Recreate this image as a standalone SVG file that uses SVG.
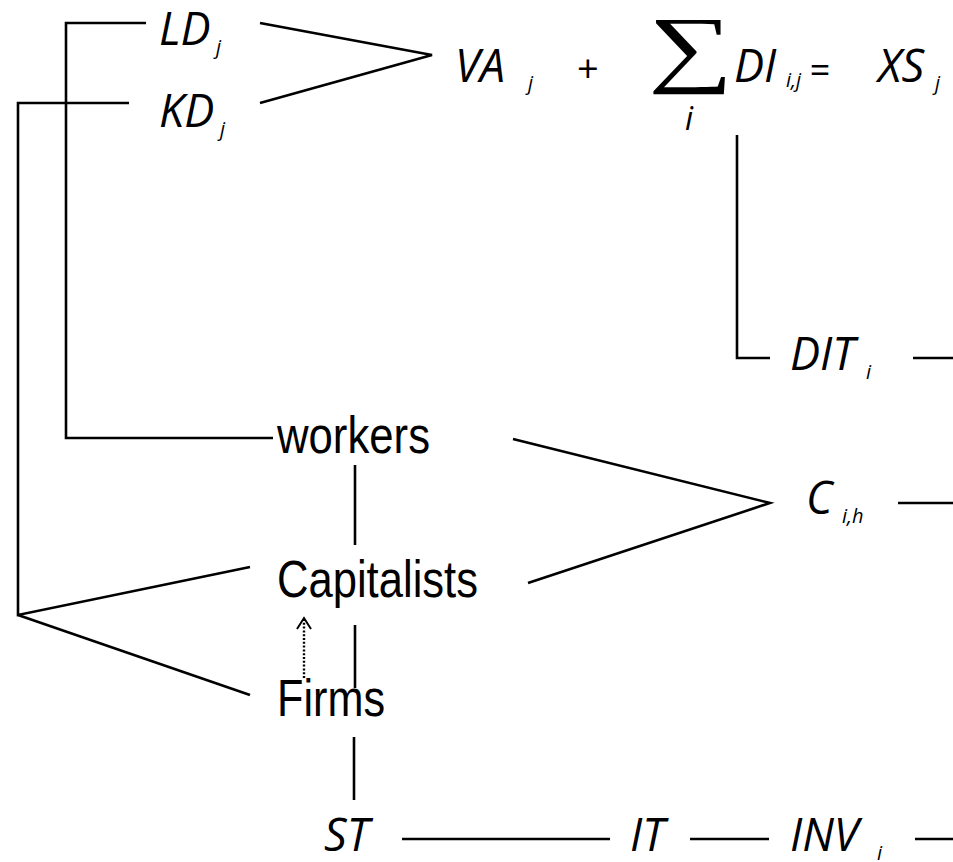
<svg xmlns="http://www.w3.org/2000/svg" width="953" height="862" viewBox="0 0 953 862">
<defs>
<style>
.it{font-family:"Open Sans","Noto Sans",sans-serif;font-style:italic;font-size:45px;fill:#000}
.sub{font-family:"Open Sans","Noto Sans",sans-serif;font-style:italic;font-size:20px;fill:#000}
.ar{font-family:"Liberation Sans Narrow","Liberation Sans",Arial,sans-serif;font-size:52px;fill:#000}
.ln{stroke:#000;stroke-width:2.6;fill:none}
</style>
<marker id="chev" viewBox="0 0 14 16" refX="12" refY="8" markerWidth="14" markerHeight="16" markerUnits="userSpaceOnUse" orient="auto">
<path d="M1,1 L12,8 L1,15" stroke="#000" stroke-width="2" fill="none"/>
</marker>
</defs>
<rect width="953" height="862" fill="#fff"/>
<g id="connectors">
<polyline class="ln" points="146,23 66,23 66,438 273,438"/>
<polyline class="ln" points="129,103 18,103 18,615 250,567"/>
<line class="ln" x1="18" y1="615" x2="250" y2="695"/>
<polyline class="ln" points="260,23 432,55 260,103"/>
<polyline class="ln" points="737,135 737,358 770,358"/>
<line class="ln" x1="913" y1="358" x2="953" y2="358"/>
<line class="ln" x1="355" y1="465" x2="355" y2="545"/>
<line class="ln" x1="355" y1="625" x2="355" y2="688"/>
<line class="ln" x1="354" y1="737" x2="354" y2="800"/>
<polyline class="ln" points="513,439 770,503 528,583"/>
<line class="ln" x1="898" y1="503" x2="953" y2="503"/>
<line class="ln" x1="402" y1="839" x2="610" y2="839"/>
<line class="ln" x1="690" y1="839" x2="769" y2="839"/>
<line class="ln" x1="915" y1="839" x2="953" y2="839"/>
<line x1="304" y1="678" x2="304" y2="618" stroke="#000" stroke-width="2.4" stroke-dasharray="2,1.8" marker-end="url(#chev)"/>
</g>
<g id="LD"><text class="it" x="159" y="45">LD</text><text class="sub" x="216" y="54">j</text></g>
<g id="KD"><text class="it" x="159" y="127">KD</text><text class="sub" x="220" y="136">j</text></g>
<g id="equation">
<text class="it" x="455" y="82">VA</text><text class="sub" x="528" y="90">j</text>
<text x="577" y="82" style="font-family:'Open Sans',sans-serif;font-size:38px">+</text>
<text transform="translate(648,76) scale(1.39,1)" style="font-family:'Liberation Serif',serif;font-size:86px">∑</text>
<text class="it" x="734" y="82">DI</text><text class="sub" x="786" y="87">i,j</text>
<text class="it" x="809" y="83" style="font-size:36px">=</text>
<text class="it" x="878" y="82">XS</text><text class="sub" x="935" y="90">j</text>
<text class="it" x="685" y="130" style="font-size:32px">i</text>
</g>
<g id="DIT"><text class="it" x="790" y="370">DIT</text><text class="sub" x="866" y="379">i</text></g>
<g id="workers"><text class="ar" x="277" y="453" textLength="153" lengthAdjust="spacingAndGlyphs">workers</text></g>
<g id="Capitalists"><text class="ar" x="277" y="597" textLength="201" lengthAdjust="spacingAndGlyphs">Capitalists</text></g>
<g id="Firms"><text class="ar" x="277" y="716" textLength="108" lengthAdjust="spacingAndGlyphs">Firms</text></g>
<g id="C"><text class="it" x="806" y="514">C</text><text class="sub" x="842" y="523">i,h</text></g>
<g id="ST"><text class="it" x="324" y="851">ST</text></g>
<g id="IT"><text class="it" x="630" y="851">IT</text></g>
<g id="INV"><text class="it" x="790" y="851">INV</text><text class="sub" x="877" y="860">i</text></g>
</svg>
